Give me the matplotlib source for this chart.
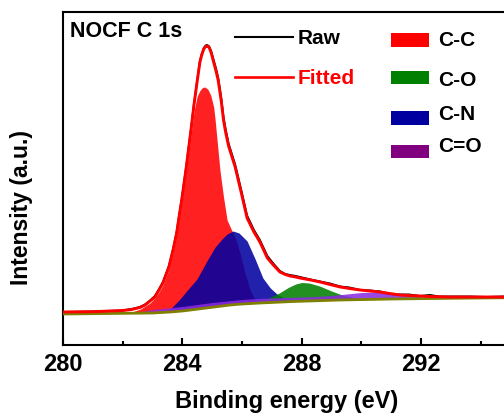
import numpy as np
import matplotlib
matplotlib.use('Agg')
from matplotlib import pyplot as plt
from matplotlib.lines import Line2D
from matplotlib.patches import Rectangle

plt.rcParams['font.family'] = ['Liberation Sans', 'DejaVu Sans']
plt.rcParams['font.weight'] = 'bold'
plt.rcParams['axes.labelweight'] = 'bold'

# background (Shirley-like)
bg_x = [280.0, 283.0, 283.6, 284.0, 284.4, 284.8, 285.2, 285.6, 286.0, 286.6,
        287.7, 289.3, 291.0, 293.0, 295.0]
bg_y = [31, 32, 33, 34, 35.5, 37, 38.5, 40, 41, 42, 43.5, 45, 46, 46.7, 47.3]

# fitted envelope
fit_x = [280.0, 281.0, 282.0, 282.3, 282.58, 282.75, 282.92, 283.08, 283.22, 283.35,
         283.45, 283.55, 283.69, 283.81, 283.89, 283.98, 284.12, 284.29, 284.39, 284.49,
         284.59, 284.65, 284.72, 284.78, 284.83, 284.9, 284.97, 285.03, 285.12, 285.2,
         285.3, 285.38, 285.45, 285.55, 285.77, 285.97, 286.17, 286.4, 286.6, 286.85,
         287.05, 287.27, 287.45, 287.61, 287.8, 287.94, 288.3, 288.62, 288.95, 289.29,
         289.6, 289.96, 290.3, 290.63, 290.95, 291.3, 291.6, 291.97, 292.3, 292.6,
         293.0, 293.64, 294.2, 294.78, 295.0]
fit_y = [33, 33.3, 34.5, 35.5, 37.5, 40, 44, 48, 55, 62,
         70, 78, 95, 112, 128, 145, 175, 215, 240, 262,
         283, 290, 296, 298.5, 299, 297.5, 292, 285, 275, 265,
         245, 225, 213, 199, 178, 153, 127, 113, 103, 87,
         80, 73, 70.5, 69, 68, 67, 65, 63, 60.5, 58,
         56.5, 55, 54, 53, 51.5, 50, 49.5, 49, 48.5, 48.3,
         48, 48, 48, 48, 48]

# raw spectrum
raw_y = [33, 33.5, 34.5, 36, 38, 40.5, 44.5, 49, 56, 63,
         71, 79, 96, 113, 129, 146, 176, 216, 241, 263,
         284, 291, 297, 299.5, 300, 298.5, 293.5, 287, 277.5, 267.5,
         248, 228, 216, 201.5, 180.5, 155.5, 129.5, 115, 105, 89,
         81.5, 74, 71, 70, 69, 68, 65.5, 63.5, 61.5, 58.5,
         57.5, 55, 54.5, 53.5, 51, 50.5, 50.5, 49, 50, 48.5,
         48.5, 48.5, 48, 48.5, 48]

# components (upper edge of each filled peak)
cc_x = [282.3, 282.6, 282.92, 283.08, 283.22, 283.35, 283.45, 283.55, 283.69, 283.81,
        283.89, 283.98, 284.12, 284.29, 284.4, 284.5, 284.6, 284.68, 284.75, 284.85,
        284.95, 285.05, 285.1, 285.18, 285.26, 285.38, 285.5, 285.65, 285.8, 285.95,
        286.1, 286.27, 286.45, 286.7]
cc_y = [33, 36, 42, 47, 53, 60, 68, 76, 93, 110,
        125, 142, 172, 210, 235, 249, 255, 257.5, 258, 256,
        250, 238, 225, 200, 175, 148, 125, 115, 105, 90,
        72, 55, 45, 42]

cn_x = [283.4, 283.6, 283.92, 284.2, 284.49, 284.86, 285.1, 285.33, 285.5, 285.7,
        285.9, 286.17, 286.44, 286.7, 286.95, 287.17, 287.4, 287.7, 288.0]
cn_y = [33, 36, 46, 56, 66, 86, 98, 106, 111, 114,
        112, 104, 86, 67, 57, 51, 47, 45, 44]

co_x = [286.1, 286.5, 286.9, 287.25, 287.55, 287.8, 288.0, 288.25, 288.6, 289.0, 289.4, 289.8, 290.2]
co_y = [41.5, 43.5, 47, 52, 57.5, 61, 62.5, 62, 59, 54, 49.5, 47, 45.8]

cdo_x = [282.5, 283.0, 283.5, 284.0, 284.5, 285.0, 285.5, 286.0, 286.5, 287.0,
         287.5, 288.0, 288.5, 289.0, 289.5, 290.0, 290.5, 291.0, 291.5, 292.0, 292.5]
cdo_y = [32.5, 35.5, 37, 38.5, 40.5, 42.5, 44, 45.5, 46.5, 47,
         47.5, 48, 48.5, 49.5, 51, 52.5, 53, 52, 50, 48, 47]

W, H = 504, 420
fig = plt.figure(figsize=(W / 100, H / 100), dpi=100)
ax = fig.add_axes([63 / W, 75 / H, 447.5 / W, 333 / H])

comps = [(cc_x, cc_y, '#ff0000'), (cn_x, cn_y, '#0000a0'),
         (co_x, co_y, '#008000'), (cdo_x, cdo_y, '#8a2be2')]
for cx, cy, col in comps:
    cx = np.array(cx)
    lower = np.interp(cx, bg_x, bg_y)
    ax.fill_between(cx, lower, cy, color=col, alpha=0.87, lw=0)

ax.plot(bg_x, bg_y, color='#808000', lw=2.0, zorder=3)
ax.plot(fit_x, raw_y, color='black', lw=1.4, zorder=4)
ax.plot(fit_x, fit_y, color='#ff0000', lw=2.1, zorder=5)

ax.set_xlim(280, 295)
ax.set_ylim(0, 333)
ax.set_xticks([280, 284, 288, 292])
ax.set_xticks([282, 286, 290, 294], minor=True)
ax.set_yticks([])
ax.tick_params(axis='x', which='major', direction='in', length=5, width=1.5,
               labelsize=17, pad=6)
ax.tick_params(axis='x', which='minor', direction='in', length=3, width=1.5)
for s in ax.spines.values():
    s.set_linewidth(1.5)

ax.set_xlabel('Binding energy (eV)', fontsize=17, labelpad=10)
ax.set_ylabel('Intensity (a.u.)', fontsize=16.5)
ax.yaxis.set_label_coords(-30 / 447.5, 0.413)


def fx(px):
    return px / W


def fy(py):
    return 1 - py / H


fig.text(fx(70), fy(37.3), 'NOCF C 1s', fontsize=15.5, va='baseline')

# legend for the lines
for py, col, lab, lw in [(36.7, 'black', 'Raw', 1.5), (76.7, '#ff0000', 'Fitted', 1.9)]:
    fig.add_artist(Line2D([fx(235), fx(293)], [fy(py), fy(py)], color=col, lw=lw))
    fig.text(fx(298), fy(py + 7.2), lab, color=col, fontsize=15, va='baseline')

# legend for the components
for top, bot, col, lab, base in [(33, 47, '#ff0000', 'C-C', 46),
                                 (71, 84, '#008000', 'C-O', 86),
                                 (111, 125, '#0000a0', 'C-N', 120),
                                 (145, 158, '#800080', 'C=O', 152)]:
    fig.add_artist(Rectangle((fx(390.7), fy(bot)), fx(429.3) - fx(390.7), fy(top) - fy(bot),
                             facecolor=col, edgecolor='none'))
    fig.text(fx(438), fy(base), lab, color='black', fontsize=15, va='baseline')

plt.savefig('out.png', dpi=100)
